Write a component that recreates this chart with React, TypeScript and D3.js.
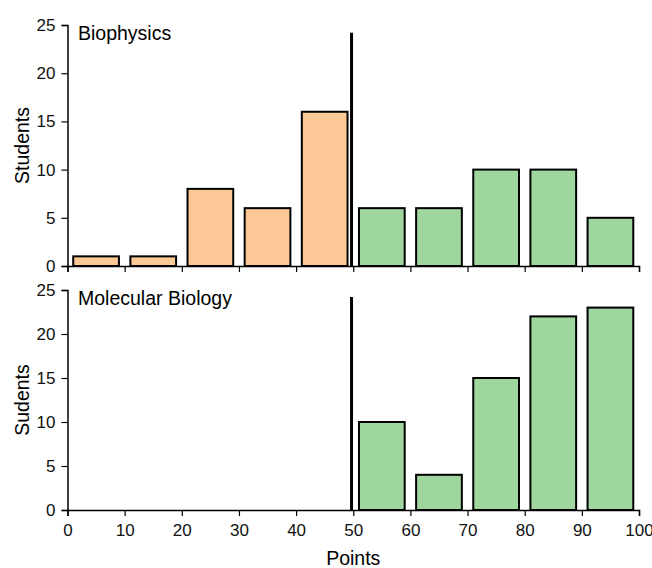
import React, { useEffect, useRef } from 'react';
import * as d3 from 'd3';

// bin starts (points), 10 wide each
const binStarts = [0, 10, 20, 30, 40, 50, 60, 70, 80, 90];
const biophysics = [1, 1, 8, 6, 16, 6, 6, 10, 10, 5];
const molecularBiology = [0, 0, 0, 0, 0, 10, 4, 15, 22, 23];
const yTicks = [0, 5, 10, 15, 20, 25];
const xTicks = [0, 10, 20, 30, 40, 50, 60, 70, 80, 90, 100];
const passMark = 49.7;
const passLineTop = 24.2;

const panels = [
  { title: 'Biophysics', yLabel: 'Students', values: biophysics, top: 25, bottom: 266, labels: false },
  { title: 'Molecular Biology', yLabel: 'Sudents', values: molecularBiology, top: 290, bottom: 510, labels: true },
];

const FAIL = '#fcc896';
const PASS = '#9fd69d';
const FONT = 'Liberation Sans, Arial, sans-serif';

export default function App() {
  const node = useRef<SVGSVGElement>(null);

  useEffect(() => {
    const svg = d3.select(node.current);
    svg.selectAll('*').remove();

    const x = d3.scaleLinear().domain([0, 100]).range([67.5, 639]);

    panels.forEach(p => {
      const y = d3.scaleLinear().domain([0, 25]).range([p.bottom, p.top]);
      const g = svg.append('g');

      // bars
      g.selectAll('rect')
        .data(p.values.map((v, i) => ({ start: binStarts[i], v })).filter(d => d.v > 0))
        .enter()
        .append('rect')
        .attr('x', d => x(d.start + 1))
        .attr('width', d => x(d.start + 9) - x(d.start + 1))
        .attr('y', d => y(d.v))
        .attr('height', d => y(0) - y(d.v))
        .attr('fill', d => (d.start < 50 ? FAIL : PASS))
        .attr('stroke', '#000')
        .attr('stroke-width', 2);

      // pass mark line
      g.append('line')
        .attr('x1', x(passMark))
        .attr('x2', x(passMark))
        .attr('y1', y(0))
        .attr('y2', y(passLineTop))
        .attr('stroke', '#000')
        .attr('stroke-width', 3);

      // y axis
      const yAxis = g.append('g').attr('transform', `translate(${x(0)},0)`);
      yAxis.call(d3.axisLeft(y).tickValues(d3.range(0, 25.1, 2.5)).tickSize(3).tickFormat(() => ''));
      yAxis.call(d3.axisLeft(y).tickValues(yTicks).tickSize(6).tickPadding(6).tickFormat(d3.format('d')));

      // x axis
      const xAxis = g.append('g').attr('transform', `translate(0,${p.bottom})`);
      xAxis.call(d3.axisBottom(x).tickValues(d3.range(5, 100, 10)).tickSize(4).tickFormat(() => ''));
      xAxis.call(d3.axisBottom(x).tickValues(xTicks).tickSize(6).tickPadding(8)
        .tickFormat(p.labels ? d3.format('d') : () => ''));

      g.selectAll('.tick line').attr('stroke-width', 1.2);
      g.selectAll('.domain').attr('stroke-width', 1.5);
      g.selectAll('.tick text')
        .attr('font-family', FONT)
        .attr('font-size', 17)
        .attr('fill', '#111');

      // titles
      g.append('text')
        .attr('x', 78)
        .attr('y', p.top + 15)
        .attr('font-family', FONT)
        .attr('font-size', 19.5)
        .text(p.title);

      g.append('text')
        .attr('transform', `translate(29,${(p.top + p.bottom) / 2}) rotate(-90)`)
        .attr('text-anchor', 'middle')
        .attr('font-family', FONT)
        .attr('font-size', 19.5)
        .text(p.yLabel);
    });

    svg.append('text')
      .attr('x', (x(0) + x(100)) / 2)
      .attr('y', 565)
      .attr('text-anchor', 'middle')
      .attr('font-family', FONT)
      .attr('font-size', 19.5)
      .text('Points');
  }, []);

  return (
    <svg
      ref={node}
      width={652}
      height={568}
      style={{ position: 'absolute', left: 0, top: 0, background: '#fff' }}
    />
  );
}
